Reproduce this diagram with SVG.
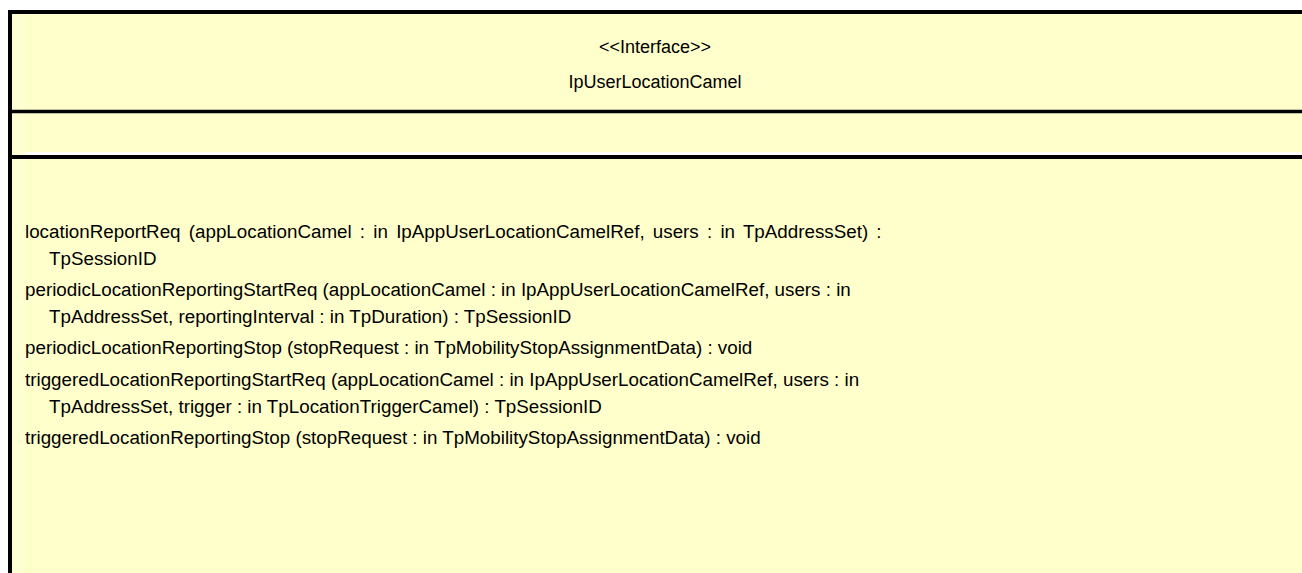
<svg xmlns="http://www.w3.org/2000/svg" width="1302" height="573" viewBox="0 0 1302 573">
<style>
.t{font-family:"Liberation Sans",Arial,sans-serif;font-size:18.8px;fill:#000}
.h{font-family:"Liberation Sans",Arial,sans-serif;font-size:18px;fill:#000;text-anchor:middle}
.b{stroke:#000;fill:none}
</style>
<rect width="1302" height="573" fill="#fff"/>
<g id="IpUserLocationCamel">
<rect x="10" y="12" width="1300" height="570" fill="#FFFFCC"/>
<rect x="12" y="14" width="13" height="560" fill="#FFFFD4"/>
<rect x="25" y="152" width="1277" height="3" fill="#fff"/>
<path class="b" stroke-width="4" d="M10 580V12H1310"/>
<line class="b" stroke-width="3.5" x1="10" y1="111.5" x2="1302" y2="111.5"/>
<line class="b" stroke-width="4" x1="10" y1="157" x2="1302" y2="157"/>
<text class="h" x="655" y="53">&lt;&lt;Interface&gt;&gt;</text>
<text class="h" x="655" y="88">IpUserLocationCamel</text>
<text class="t" x="25" y="238" word-spacing="3">locationReportReq (appLocationCamel : in IpAppUserLocationCamelRef, users : in TpAddressSet) :</text>
<text class="t" x="49" y="265">TpSessionID</text>
<text class="t" x="25" y="296">periodicLocationReportingStartReq (appLocationCamel : in IpAppUserLocationCamelRef, users : in</text>
<text class="t" x="49" y="323">TpAddressSet, reportingInterval : in TpDuration) : TpSessionID</text>
<text class="t" x="25" y="354">periodicLocationReportingStop (stopRequest : in TpMobilityStopAssignmentData) : void</text>
<text class="t" x="25" y="386">triggeredLocationReportingStartReq (appLocationCamel : in IpAppUserLocationCamelRef, users : in</text>
<text class="t" x="49" y="413">TpAddressSet, trigger : in TpLocationTriggerCamel) : TpSessionID</text>
<text class="t" x="25" y="444">triggeredLocationReportingStop (stopRequest : in TpMobilityStopAssignmentData) : void</text>
</g>
</svg>
